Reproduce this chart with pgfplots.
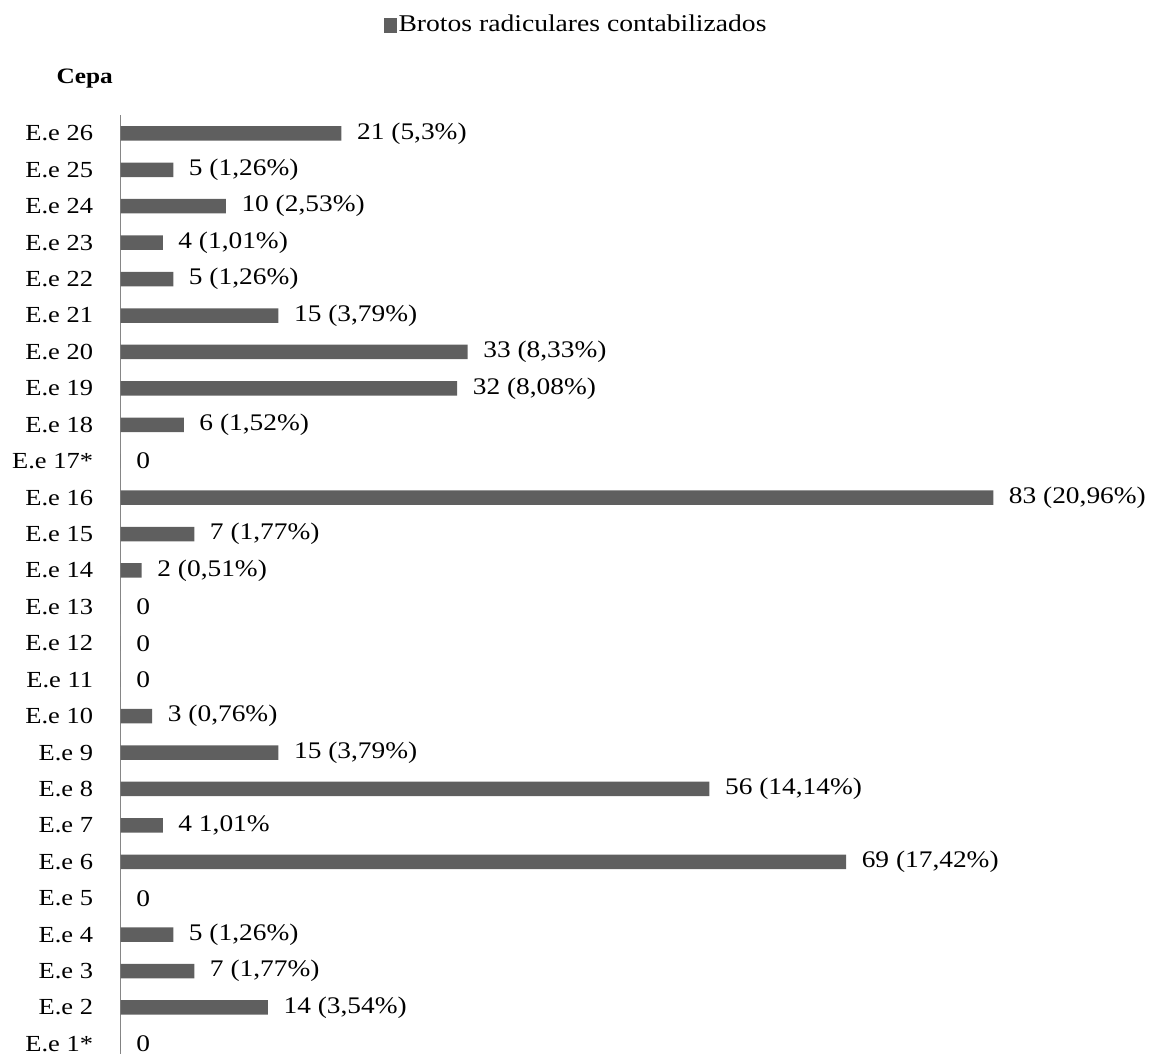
\documentclass[border=0pt]{standalone}
\usepackage{fontspec}
\setmainfont{Liberation Serif}[FakeStretch=1.15]
\usepackage{pgfplots}
\usepackage{pgfplotstable}
\pgfplotsset{compat=1.18}

\definecolor{barc}{RGB}{95,95,95}
\definecolor{axisgray}{RGB}{134,134,134}

% Brotos radiculares por cepa: valor y etiqueta
\pgfplotstableread[col sep=semicolon,row sep=\\]{
cepa;valor;etiqueta\\
1;0;0\\
2;14;14 (3,54\%)\\
3;7;7 (1,77\%)\\
4;5;5 (1,26\%)\\
5;0;0\\
6;69;69 (17,42\%)\\
7;4;4 1,01\%\\
8;56;56 (14,14\%)\\
9;15;15 (3,79\%)\\
10;3;3 (0,76\%)\\
11;0;0\\
12;0;0\\
13;0;0\\
14;2;2 (0,51\%)\\
15;7;7 (1,77\%)\\
16;83;83 (20,96\%)\\
17;0;0\\
18;6;6 (1,52\%)\\
19;32;32 (8,08\%)\\
20;33;33 (8,33\%)\\
21;15;15 (3,79\%)\\
22;5;5 (1,26\%)\\
23;4;4 (1,01\%)\\
24;10;10 (2,53\%)\\
25;5;5 (1,26\%)\\
26;21;21 (5,3\%)\\
}\brotos

\begin{document}
\begin{tikzpicture}
\begin{axis}[
  at={(0pt,0pt)}, anchor=south west,
  scale only axis,
  x=10.513pt, y=36.42pt,
  xmin=0, xmax=83,
  ymin=0.5, ymax=26.5,
  enlargelimits=false,
  clip=false,
  hide x axis,
  axis y line*=left,
  y axis line style={draw=axisgray, line width=1.5pt, -},
  ytick={1,...,26},
  yticklabels={E.e 1*,E.e 2,E.e 3,E.e 4,E.e 5,E.e 6,E.e 7,E.e 8,E.e 9,E.e 10,
    E.e 11,E.e 12,E.e 13,E.e 14,E.e 15,E.e 16,E.e 17*,E.e 18,E.e 19,E.e 20,
    E.e 21,E.e 22,E.e 23,E.e 24,E.e 25,E.e 26},
  major tick length=0pt,
  yticklabel style={anchor=east, inner sep=0pt, xshift=-27.5pt,
    font=\fontsize{23}{27}\selectfont},
  point meta=explicit symbolic,
  nodes near coords,
  every node near coord/.append style={anchor=west, inner sep=0pt,
    xshift=15.5pt, font=\fontsize{23.8}{28}\selectfont, text=black},
  ylabel={\textbf{Cepa}},
  every axis y label/.style={at={(axis description cs:-0.0776,1.0335)},
    anchor=base west, font=\fontsize{22}{26}\selectfont},
  legend style={draw=none, fill=none, inner sep=0pt,
    at={(axis description cs:0.5218,1.0963)}, anchor=center,
    nodes={inner sep=1.5pt, anchor=base west},
    font=\fontsize{24}{28}\selectfont},
]
\addplot[xbar, bar width=14.5pt, bar shift=0pt, fill=barc, draw=none,
  legend image code/.code={\fill[barc] (0pt,-1.5pt) rectangle (13pt,13.5pt);}]
  table[x=valor, y=cepa, meta=etiqueta] {\brotos};
\addlegendentry{Brotos radiculares contabilizados}
\end{axis}
\pgfresetboundingbox
\useasboundingbox (-120.7pt,8.13pt) rectangle (1038.3pt,1062.13pt);
\end{tikzpicture}
\end{document}
